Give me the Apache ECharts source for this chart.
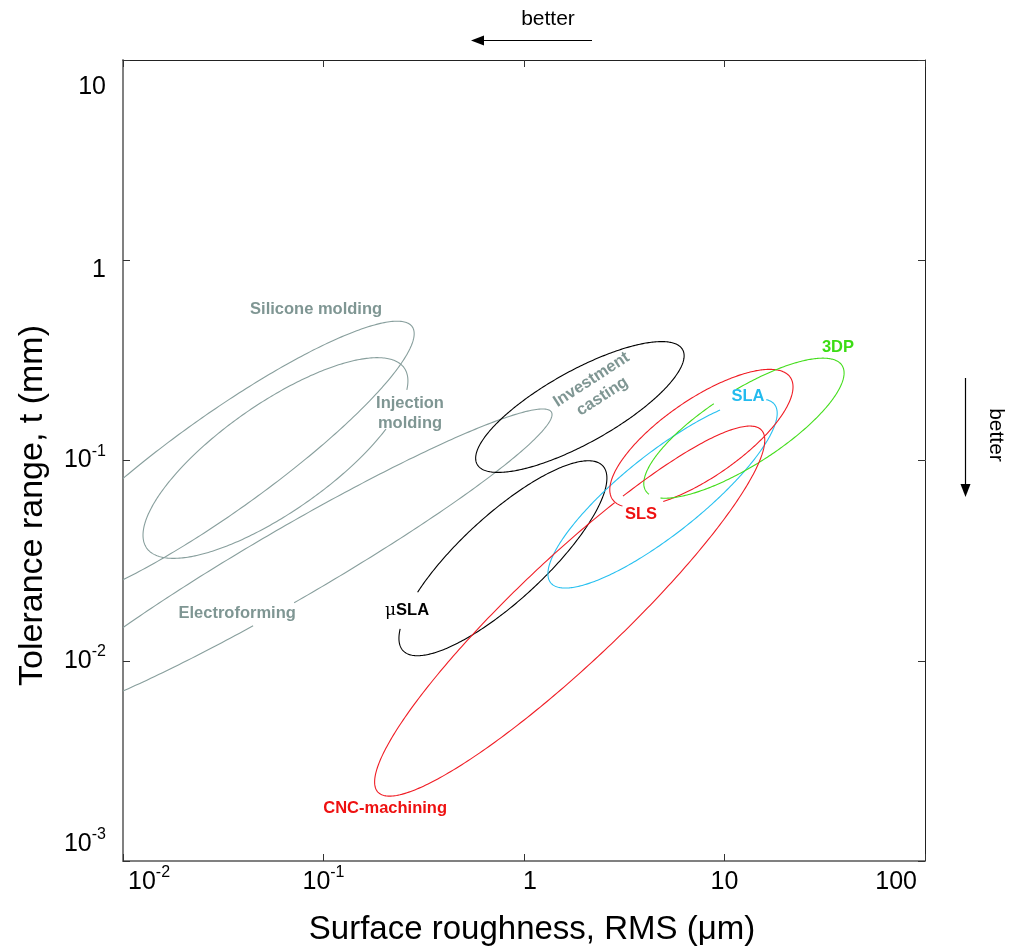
<!DOCTYPE html>
<html><head><meta charset="utf-8">
<script src="https://cdn.jsdelivr.net/npm/echarts@6/dist/echarts.min.js"></script>
<style>html,body{margin:0;padding:0;background:#fff}#c{width:1010px;height:948px}</style>
</head><body><div id="c"></div>
<script>
// ---- data (log-log space: roughness in µm, tolerance in mm) ----
const processes = ['Silicone molding', 'Injection molding', 'Electroforming', 'Investment casting', 'μSLA', 'SLA', 'SLS', '3DP', 'CNC-machining'];
const centerRoughness = [0.0305, 0.0576, 0.068, 1.90, 0.785, 4.91, 7.67, 12.5, 1.69];
const centerTolerance = [0.0961, 0.1029, 0.0304, 0.185, 0.0325, 0.0684, 0.129, 0.145, 0.0177];
const majorHalfDecades = [1.178, 0.784, 1.509, 0.587, 0.679, 0.714, 0.538, 0.581, 1.316];
const minorHalfDecades = [0.240, 0.270, 0.178, 0.180, 0.212, 0.200, 0.195, 0.185, 0.262];
const tiltDeg = [35.6, 35.0, 30.2, 29.2, 42.8, 38.6, 34.5, 32.6, 43.4];
const outlineGapsDeg = [[], [[313, 339]], [[258, 267]], [], [[129, 155]], [[12.6, 47.3]], [[196.5, 231.4]], [[83, 96], [187, 202]], [[63.5, 66]]];
const labelText = ['Silicone molding', 'Injection\nmolding', 'Electroforming', 'Investment\ncasting', '{m|μ}{b|SLA}', 'SLA', 'SLS', '3DP', 'CNC-machining'];
const labelRoughness = [0.0918, 0.27, 0.0371, 2.31, 0.261, 13.1, 3.83, 36.8, 0.203];
const labelTolerance = [0.571, 0.1727, 0.0173, 0.2298, 0.0179, 0.21, 0.0535, 0.365, 0.00184];
const labelAngleDeg = [0, 0, 0, 33, 0, 0, 0, 0, 0];
const xTicks = [0.01, 0.1, 1, 10, 100];
const yTicks = [0.001, 0.01, 0.1, 1, 10];

// ---- styles ----
const GRAY = '#889f9d', GRAYTXT = '#7f9693', BLACK = '#000000', BLUE = '#27c0f0', RED = '#f01c24', GREEN = '#44dd1c';
const lineColor = [GRAY, GRAY, GRAY, BLACK, BLACK, BLUE, RED, GREEN, RED];
const textColor = [GRAYTXT, GRAYTXT, GRAYTXT, GRAYTXT, BLACK, '#22bbee', '#ee1111', '#3cdc14', '#ee1111'];
const FONT = 'Liberation Sans, Arial, Helvetica, sans-serif';

function drawnRanges(gaps) {
  if (!gaps.length) return [[0, 360]];
  const g = gaps.slice().sort((a, b) => a[0] - b[0]);
  const r = [];
  for (let k = 0; k < g.length; k++) {
    const s = g[k][1];
    const e = k + 1 < g.length ? g[k + 1][0] : g[0][0] + 360;
    r.push([s, e]);
  }
  return r;
}

function renderEllipse(params, api) {
  const i = params.dataIndex;
  const cx = Math.log10(centerRoughness[i]), cy = Math.log10(centerTolerance[i]);
  const a = majorHalfDecades[i], b = minorHalfDecades[i], th = tiltDeg[i] * Math.PI / 180;
  const children = drawnRanges(outlineGapsDeg[i]).map(([t0, t1]) => {
    const n = Math.max(2, Math.ceil(t1 - t0));
    const pts = [];
    for (let k = 0; k <= n; k++) {
      const t = (t0 + (t1 - t0) * k / n) * Math.PI / 180;
      const lx = cx + a * Math.cos(t) * Math.cos(th) - b * Math.sin(t) * Math.sin(th);
      const ly = cy + a * Math.cos(t) * Math.sin(th) + b * Math.sin(t) * Math.cos(th);
      pts.push(api.coord([Math.pow(10, lx), Math.pow(10, ly)]));
    }
    return { type: 'polyline', shape: { points: pts }, style: { stroke: lineColor[i], lineWidth: 1.1, fill: null } };
  });
  const cs = params.coordSys;
  return { type: 'group', children, clipPath: { type: 'rect', shape: { x: cs.x, y: cs.y, width: cs.width, height: cs.height } } };
}

function renderLabel(params, api) {
  const i = params.dataIndex;
  const p = api.coord([labelRoughness[i], labelTolerance[i]]);
  return {
    type: 'text', x: p[0], y: p[1], rotation: labelAngleDeg[i] * Math.PI / 180,
    style: {
      text: labelText[i], fill: textColor[i], font: 'bold 16.5px ' + FONT,
      textAlign: 'center', textVerticalAlign: 'middle', lineHeight: 20,
      rich: {
        m: { fontSize: 17, fontWeight: 'normal', fontFamily: 'DejaVu Serif, serif', fill: BLACK, color: BLACK },
        b: { fontSize: 16.5, fontWeight: 'bold', fontFamily: FONT, fill: BLACK, color: BLACK }
      }
    }
  };
}

const richBase = { fontSize: 25, lineHeight: 34, fontFamily: FONT, color: '#000' };
const richSup = { fontSize: 16, lineHeight: 16, verticalAlign: 'top', fontFamily: FONT, color: '#000' };

const chart = echarts.init(document.getElementById('c'), null, { renderer: 'canvas' });

chart.setOption({
  animation: false,
  backgroundColor: '#fff',
  grid: { left: 123, right: 85, top: 60, bottom: 87, containLabel: false, outerBoundsMode: 'none' },
  xAxis: [{
    type: 'log', logBase: 10, min: xTicks[0], max: xTicks[xTicks.length - 1],
    position: 'bottom',
    name: 'Surface roughness, RMS (μm)', nameLocation: 'middle', nameGap: 52,
    nameTextStyle: { fontSize: 33, fontFamily: FONT, color: '#000', padding: [0, 0, 0, 16] },
    axisLine: { show: true, lineStyle: { color: '#808080', width: 2 } },
    axisTick: { show: true, inside: true, length: 7, lineStyle: { color: '#333', width: 1 } },
    splitLine: { show: false }, minorTick: { show: false },
    axisLabel: {
      margin: 4, alignMinLabel: 'left', alignMaxLabel: 'right',
      formatter: (v) => {
        const e = Math.round(Math.log10(v));
        if (e === -2) return '{bl|10}{s|-2}';
        if (e < 0) return '{b|10}{s|' + e + '}';
        if (e === 0) return '{bp|1}';
        if (e === 2) return '{br|100}';
        return '{b|' + Math.pow(10, e) + '}';
      },
      rich: {
        b: richBase, s: richSup,
        bl: Object.assign({}, richBase, { padding: [0, 0, 0, 5] }),
        bp: Object.assign({}, richBase, { padding: [0, 0, 0, 12] }),
        br: Object.assign({}, richBase, { padding: [0, 8, 0, 0] })
      }
    }
  }, {
    type: 'log', logBase: 10, min: xTicks[0], max: xTicks[xTicks.length - 1], position: 'top',
    axisLine: { show: true, lineStyle: { color: '#222', width: 1 } },
    axisTick: { show: true, inside: true, length: 7, lineStyle: { color: '#333', width: 1 } },
    axisLabel: { show: false }, splitLine: { show: false }
  }],
  yAxis: [{
    type: 'log', logBase: 10, min: yTicks[0], max: yTicks[yTicks.length - 1],
    position: 'left',
    name: 'Tolerance range, t (mm)', nameLocation: 'middle', nameGap: 73,
    nameTextStyle: { fontSize: 34, fontFamily: FONT, color: '#000', padding: [0, 90, 0, 0] },
    axisLine: { show: true, lineStyle: { color: '#808080', width: 2 } },
    axisTick: { show: true, inside: true, length: 7, lineStyle: { color: '#333', width: 1 } },
    splitLine: { show: false },
    axisLabel: {
      margin: 17, verticalAlignMinLabel: 'bottom', verticalAlignMaxLabel: 'top',
      formatter: (v) => {
        const e = Math.round(Math.log10(v));
        if (e === 1) return '{yt|10}';
        if (e === 0) return '{yo|1}';
        return '{b|10}{s|' + e + '}';
      },
      rich: {
        b: richBase, s: richSup,
        yt: Object.assign({}, richBase, { padding: [20, 0, 0, 0] }),
        yo: Object.assign({}, richBase, { padding: [20, 0, 0, 0] })
      }
    }
  }, {
    type: 'log', logBase: 10, min: yTicks[0], max: yTicks[yTicks.length - 1], position: 'right',
    axisLine: { show: true, lineStyle: { color: '#222', width: 1 } },
    axisTick: { show: true, inside: true, length: 7, lineStyle: { color: '#333', width: 1 } },
    axisLabel: { show: false }, splitLine: { show: false }
  }],
  series: [{
    type: 'custom', name: 'regions', xAxisIndex: 0, yAxisIndex: 0, clip: true, silent: true,
    renderItem: renderEllipse,
    encode: { x: 0, y: 1 },
    data: processes.map((p, i) => [centerRoughness[i], centerTolerance[i]])
  }, {
    type: 'custom', name: 'labels', xAxisIndex: 0, yAxisIndex: 0, silent: true,
    renderItem: renderLabel,
    encode: { x: 0, y: 1 },
    data: processes.map((p, i) => [labelRoughness[i], labelTolerance[i]])
  }],
  graphic: [
    { type: 'text', x: 548, y: 19, style: { text: 'better', font: '21px ' + FONT, fill: '#000', textAlign: 'center', textVerticalAlign: 'middle' } },
    { type: 'line', shape: { x1: 592, y1: 40.5, x2: 480, y2: 40.5 }, style: { stroke: '#000', lineWidth: 1.2 } },
    { type: 'polygon', shape: { points: [[471, 40.5], [484, 35.5], [484, 45.5]] }, style: { fill: '#000' } },
    { type: 'line', shape: { x1: 965.5, y1: 378, x2: 965.5, y2: 488 }, style: { stroke: '#000', lineWidth: 1.2 } },
    { type: 'polygon', shape: { points: [[965.5, 497], [960.5, 484], [970.5, 484]] }, style: { fill: '#000' } },
    { type: 'text', x: 996, y: 435, rotation: -Math.PI / 2, style: { text: 'better', font: '21px ' + FONT, fill: '#000', textAlign: 'center', textVerticalAlign: 'middle' } }
  ]
});
</script></body></html>
